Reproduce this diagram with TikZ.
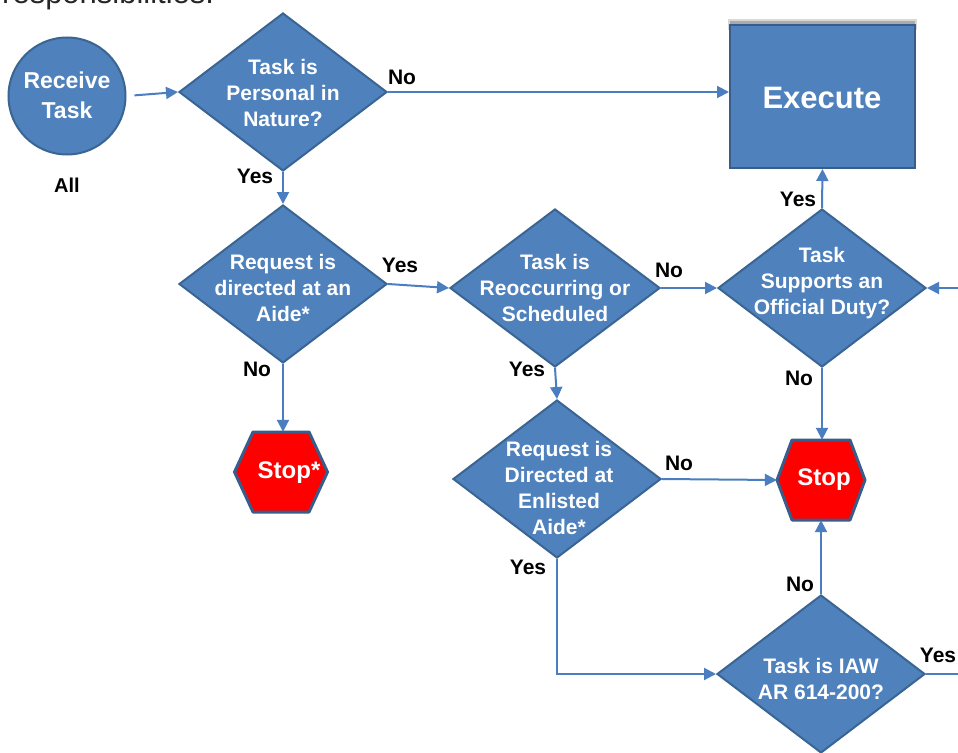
\documentclass[tikz,border=0pt]{standalone}
\usepackage{fontspec}
\setmainfont{Liberation Sans}
\usetikzlibrary{arrows.meta,shapes.geometric,shadows}
\definecolor{fillblue}{HTML}{4F81BD}
\definecolor{edgeblue}{HTML}{3A6593}
\definecolor{linkblue}{HTML}{4A7EC0}
\definecolor{stopred}{HTML}{FF0000}
\definecolor{stopedge}{HTML}{385D8A}
\begin{document}
\begin{tikzpicture}[x=1pt,y=-1pt,
  dia/.style={diamond, draw=edgeblue, fill=fillblue, line width=2pt, inner sep=0pt,
              minimum width=208pt, minimum height=158pt},
  dtext/.style={text=white, font=\bfseries\fontsize{21}{26}\selectfont, align=center, inner sep=0pt},
  lab/.style={text=black, font=\bfseries\fontsize{21}{24}\selectfont, inner sep=0pt},
  link/.style={draw=linkblue, line width=2pt, -{Triangle[length=12pt,width=12pt]}},
  plain/.style={draw=linkblue, line width=2pt},
  hexfill/.style={fill=stopred, draw=stopedge, line width=3pt, line join=round},
  hexbox/.style={rectangle, inner sep=0pt},
  stoptext/.style={text=white, font=\bfseries\fontsize{24}{26}\selectfont, inner sep=0pt}]
\useasboundingbox (0,0) rectangle (958,752);
\fill[white] (0,0) rectangle (958,752);

% cut-off heading at top edge
\node[anchor=base west, inner sep=0pt, font=\fontsize{31}{34}\selectfont, text=black!85] (head) at (2,4) {responsibilities:};

% start
\node[circle, draw=edgeblue, fill=fillblue, line width=2pt, minimum size=117pt, inner sep=0pt] (rt) at (67,96) {};
\node[text=white, font=\bfseries\fontsize{23}{30}\selectfont, align=center, inner sep=0pt] (rtt) at (67,95) {Receive\\Task};
\node[lab, font=\bfseries\fontsize{20}{22}\selectfont] (all) at (67,185) {All};

% diamonds
\node[dia] (d1) at (283,92) {};
\node[dtext] (d1t) at (283,93) {Task is\\Personal in\\Nature?};
\node[dia] (d2) at (283,284) {};
\node[dtext] (d2t) at (283,288) {Request is\\directed at an\\Aide*};
\node[dia, minimum width=210pt] (d3) at (555,288) {};
\node[dtext] (d3t) at (555,288) {Task is\\Reoccurring or\\Scheduled};
\node[dia] (d4) at (822,288) {};
\node[dtext] (d4t) at (822,283) {Task\\Supports an\\Official Duty?};
\node[dia] (d5) at (557,479) {};
\node[dtext] (d5t) at (559,488) {Request is\\Directed at\\Enlisted\\Aide*};
\node[dia] (d6) at (821,674) {};
\node[dtext] (d6t) at (821,679) {Task is IAW\\AR 614-200?};

% execute
\fill[black!30, opacity=0.5] (728,19) rectangle (917,30);
\fill[black!45, opacity=0.6] (730,21) rectangle (915,30);
\node[rectangle, draw=stopedge, fill=fillblue, line width=2pt, minimum width=185pt, minimum height=143pt] (ex) at (822.5,96.5) {};
\node[text=white, font=\bfseries\fontsize{31}{34}\selectfont, inner sep=0pt] (ext) at (822,98) {Execute};

% stop hexagons
\filldraw[hexfill, shift={(281,472)}] (-46.5,0) -- (-28,-40) -- (28,-40) -- (46.5,0) -- (28,40) -- (-28,40) -- cycle;
\node[hexbox, minimum width=93pt, minimum height=80pt] (s1) at (281,472) {};
\node[stoptext] (s1t) at (289,473) {Stop*};
\filldraw[hexfill, shift={(821,480)}] (-44,0) -- (-29,-40) -- (29,-40) -- (44,0) -- (29,40) -- (-29,40) -- cycle;
\node[hexbox, minimum width=88pt, minimum height=80pt] (s2) at (821,480) {};
\node[stoptext] (s2t) at (824,480) {Stop};

% free ends at the right edge
\coordinate (rin) at (958,288);
\coordinate (rout) at (958,674);

% connectors
\draw[link, shorten <=8pt] (rt.east) -- (d1.west);
\draw[link] (d1.east) -- (d1.east -| ex.west);
\draw[link] (d1.south) -- (d2.north);
\draw[link] (d2.east) -- (d3.west);
\draw[link] (d3.east) -- (d4.west);
\draw[link] (rin) -- (d4.east);
\draw[link] (d4.north) -- (ex.south);
\draw[link] (d4.south) -- (d4.south |- s2.north);
\draw[link] (d2.south) -- (d2.south |- s1.north);
\draw[link] (d3.south) -- (d5.north);
\draw[link] (d5.east) -- (s2.west);
\draw[link] (d5.south) |- (d6.west);
\draw[link] (d6.north) -- (d6.north |- s2.south);
\draw[plain] (d6.east) -- (rout);

% labels
\node[lab] (l1) at (402,77) {No};
\node[lab] (l2) at (255,176) {Yes};
\node[lab] (l3) at (400,265) {Yes};
\node[lab] (l4) at (257,369) {No};
\node[lab] (l5) at (527,369) {Yes};
\node[lab] (l6) at (669,270) {No};
\node[lab] (l7) at (798,199) {Yes};
\node[lab] (l8) at (799,378) {No};
\node[lab] (l9) at (679,463) {No};
\node[lab] (l10) at (528,567) {Yes};
\node[lab] (l11) at (800,584) {No};
\node[lab] (l12) at (938,655) {Yes};
\end{tikzpicture}
\end{document}
